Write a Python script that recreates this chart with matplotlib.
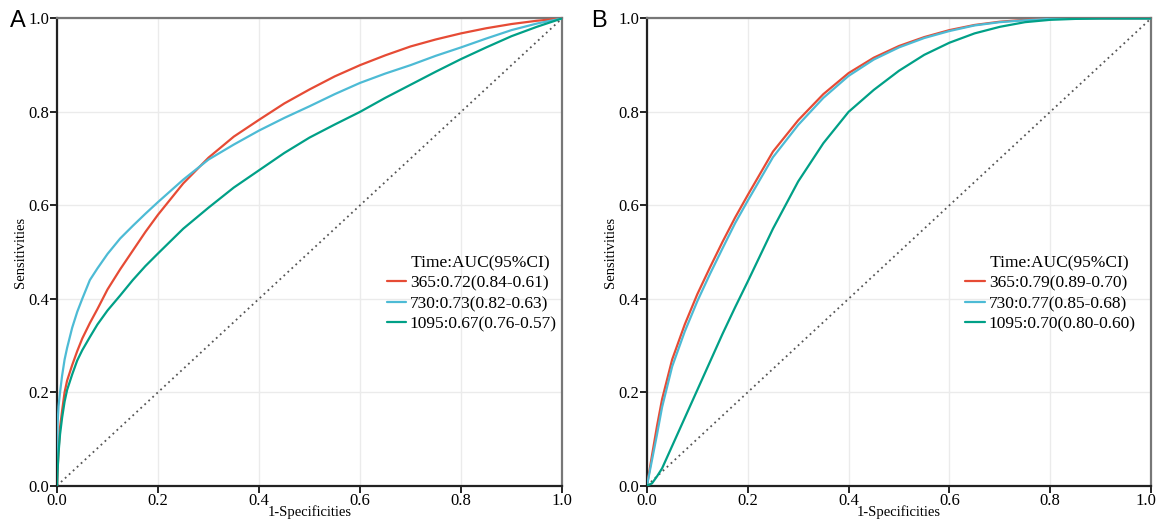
import matplotlib
matplotlib.use("Agg")
import matplotlib.pyplot as plt
from matplotlib.transforms import ScaledTranslation

plt.rcParams["font.family"] = ["Liberation Serif", "DejaVu Serif"]

# colours (ggsci npg style)
RED = "#E64B35"
CYAN = "#4DBBD5"
GREEN = "#00A087"

legend_title = "Time:AUC(95%CI)"

# ---- panel A ----
fpr_a = [0, 0.001, 0.003, 0.006, 0.01, 0.015, 0.02, 0.03, 0.04, 0.05, 0.065, 0.08, 0.1,
         0.125, 0.15, 0.175, 0.2, 0.25, 0.3, 0.35, 0.4, 0.45, 0.5, 0.55, 0.6, 0.65,
         0.7, 0.75, 0.8, 0.85, 0.9, 0.95, 1.0]
tpr_a_365 = [0, 0.03, 0.075, 0.125, 0.16, 0.2, 0.225, 0.258, 0.288, 0.315, 0.348, 0.378, 0.42,
             0.463, 0.503, 0.543, 0.58, 0.647, 0.702, 0.747, 0.783, 0.818, 0.848, 0.876, 0.9, 0.921,
             0.94, 0.955, 0.968, 0.979, 0.988, 0.995, 1.0]
tpr_a_730 = [0, 0.13, 0.17, 0.2, 0.235, 0.27, 0.295, 0.338, 0.372, 0.4, 0.44, 0.465, 0.496,
             0.529, 0.556, 0.582, 0.607, 0.655, 0.698, 0.73, 0.76, 0.787, 0.812, 0.838, 0.862, 0.882,
             0.9, 0.92, 0.938, 0.957, 0.975, 0.989, 1.0]
tpr_a_1095 = [0, 0.03, 0.07, 0.11, 0.145, 0.18, 0.205, 0.238, 0.268, 0.29, 0.318, 0.345, 0.375,
              0.407, 0.44, 0.47, 0.497, 0.55, 0.595, 0.638, 0.675, 0.712, 0.745, 0.773, 0.8, 0.83,
              0.858, 0.886, 0.913, 0.938, 0.962, 0.982, 1.0]
labels_a = ["365:0.72(0.84-0.61)", "730:0.73(0.82-0.63)", "1095:0.67(0.76-0.57)"]

# ---- panel B ----
fpr_b = [0, 0.01, 0.02, 0.03, 0.05, 0.075, 0.1, 0.125, 0.15, 0.175, 0.2, 0.25, 0.3, 0.35,
         0.4, 0.45, 0.5, 0.55, 0.6, 0.65, 0.7, 0.75, 0.8, 0.85, 0.9, 1.0]
tpr_b_365 = [0, 0.065, 0.128, 0.185, 0.27, 0.345, 0.41, 0.467, 0.522, 0.574, 0.622, 0.715, 0.782, 0.838,
             0.883, 0.916, 0.941, 0.96, 0.975, 0.986, 0.993, 0.997, 0.999, 1.0, 1.0, 1.0]
tpr_b_730 = [0, 0.055, 0.11, 0.168, 0.255, 0.33, 0.395, 0.453, 0.508, 0.562, 0.61, 0.703, 0.772, 0.83,
             0.877, 0.912, 0.938, 0.958, 0.973, 0.985, 0.992, 0.996, 0.999, 1.0, 1.0, 1.0]
tpr_b_1095 = [0, 0.005, 0.02, 0.037, 0.085, 0.145, 0.205, 0.265, 0.325, 0.382, 0.437, 0.55, 0.651, 0.733,
              0.8, 0.847, 0.888, 0.922, 0.948, 0.968, 0.982, 0.992, 0.997, 0.999, 1.0, 1.0]
labels_b = ["365:0.79(0.89-0.70)", "730:0.77(0.85-0.68)", "1095:0.70(0.80-0.60)"]

ticks = [0.0, 0.2, 0.4, 0.6, 0.8, 1.0]


def draw_panel(ax, fpr, curves, labels, legend_x):
    for tpr, color, lab in zip(curves, [RED, CYAN, GREEN], labels):
        ax.plot(fpr, tpr, color=color, lw=1.6, label=lab,
                solid_capstyle="round", solid_joinstyle="round", zorder=3)
    ax.plot([0, 1], [0, 1], color="#555555", lw=1.3, ls=(0, (1, 2)), zorder=2)

    ax.set_xlim(0, 1)
    ax.set_ylim(0, 1)
    ax.set_xticks(ticks)
    ax.set_yticks(ticks)
    ax.set_xticklabels([f"{t:.1f}" for t in ticks])
    ax.set_yticklabels([f"{t:.1f}" for t in ticks])
    ax.grid(True, color="#EBEBEB", lw=1.0, zorder=0)
    ax.set_axisbelow(True)
    ax.tick_params(direction="out", length=5, width=1.2, labelsize=12, pad=0.5, colors="black")

    for side in ["left", "bottom"]:
        ax.spines[side].set_linewidth(1.6)
        ax.spines[side].set_color("#222222")
    for side in ["top", "right"]:
        ax.spines[side].set_linewidth(1.6)
        ax.spines[side].set_color("#777777")

    ax.set_xlabel("1-Specificities", fontsize=10.5, labelpad=-3)
    ax.set_ylabel("Sensitivities", fontsize=10.5, labelpad=1)

    ax.legend(title="    " + legend_title, loc="lower right",
              bbox_to_anchor=(legend_x, 0.328), frameon=False,
              fontsize=12.5, title_fontsize=12.5, handlelength=1.1,
              handletextpad=0.25, borderpad=0, labelspacing=0.25,
              borderaxespad=0)


fig = plt.figure(figsize=(11.59, 5.25), dpi=100)
ax_a = fig.add_axes([0.0492, 0.0749, 0.4357, 0.890])
ax_b = fig.add_axes([0.5582, 0.0749, 0.4349, 0.890])

draw_panel(ax_a, fpr_a, [tpr_a_365, tpr_a_730, tpr_a_1095], labels_a, 0.99)
draw_panel(ax_b, fpr_b, [tpr_b_365, tpr_b_730, tpr_b_1095], labels_b, 0.97)

# keep the last tick label of panel B inside the figure
last = ax_b.get_xticklabels()[-1]
last.set_transform(last.get_transform() + ScaledTranslation(-5 / 100, 0, fig.dpi_scale_trans))

fig.text(10 / 1159, 1 - 27 / 525, "A", fontsize=17, family="Liberation Sans")
fig.text(591 / 1159, 1 - 27 / 525, "B", fontsize=17, family="Liberation Sans")

fig.savefig("out.png", dpi=100)
